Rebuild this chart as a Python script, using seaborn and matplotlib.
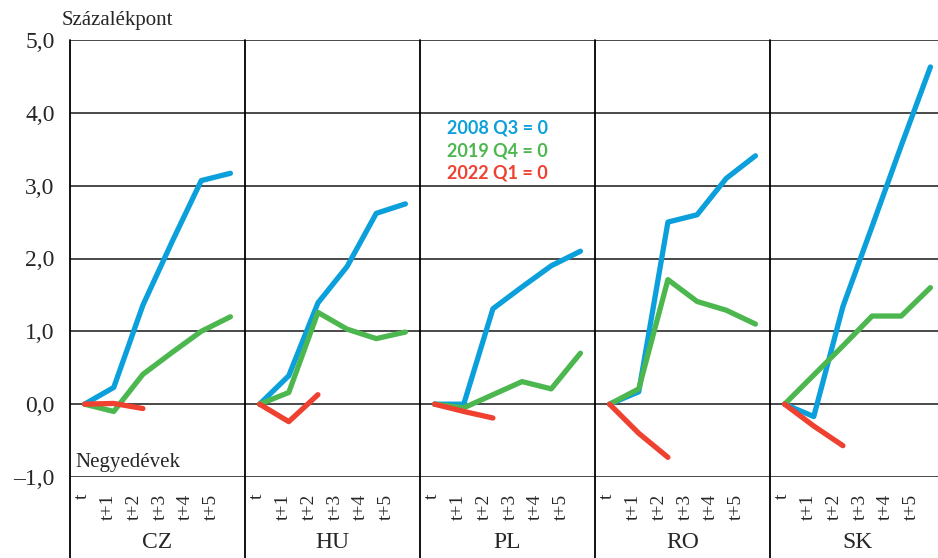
import matplotlib
matplotlib.use("Agg")
import matplotlib.pyplot as plt
import seaborn as sns
import pandas as pd
import numpy as np

# ---- data ----
countries = ["CZ", "HU", "PL", "RO", "SK"]
periods = ["t", "t+1", "t+2", "t+3", "t+4", "t+5"]
series_names = ["2008 Q3 = 0", "2019 Q4 = 0", "2022 Q1 = 0"]

s2008 = {
    "CZ": [0.0, 0.23, 1.36, 2.23, 3.07, 3.17],
    "HU": [0.0, 0.39, 1.39, 1.89, 2.62, 2.75],
    "PL": [0.0, 0.0, 1.31, 1.61, 1.90, 2.10],
    "RO": [0.0, 0.17, 2.50, 2.60, 3.10, 3.41],
    "SK": [0.0, -0.17, 1.34, 2.44, 3.55, 4.63],
}
s2019 = {
    "CZ": [0.0, -0.10, 0.41, 0.71, 1.00, 1.20],
    "HU": [0.0, 0.16, 1.26, 1.03, 0.90, 0.99],
    "PL": [0.0, -0.05, 0.13, 0.31, 0.21, 0.70],
    "RO": [0.0, 0.21, 1.71, 1.41, 1.29, 1.10],
    "SK": [0.0, 0.40, 0.80, 1.21, 1.21, 1.60],
}
s2022 = {
    "CZ": [0.0, 0.01, -0.06],
    "HU": [0.0, -0.24, 0.13],
    "PL": [0.0, -0.10, -0.19],
    "RO": [0.0, -0.40, -0.73],
    "SK": [0.0, -0.30, -0.57],
}
ytick_values = [-1, 0, 1, 2, 3, 4, 5]
ytick_labels = ["\u20131,0", "0,0", "1,0", "2,0", "3,0", "4,0", "5,0"]

colors = {"2008 Q3 = 0": "#0BA0DB", "2019 Q4 = 0": "#4DB74F", "2022 Q1 = 0": "#EE4130"}

# ---- long table ----
rows = []
for ci, c in enumerate(countries):
    for name, src in zip(series_names, [s2008, s2019, s2022]):
        for pi, v in enumerate(src[c]):
            rows.append({"country": c, "series": name, "period": periods[pi],
                         "pos": ci * len(periods) + pi, "value": v})
df = pd.DataFrame(rows)

sns.set_style("white")
plt.rcParams["font.family"] = ["Liberation Serif", "DejaVu Serif"]

fig = plt.figure(figsize=(9.38, 5.58), dpi=100)
ax = fig.add_axes([70 / 938, 1 - 477 / 558, 1 - 70 / 938, 437 / 558])

sns.lineplot(data=df, x="pos", y="value", hue="series", units="country",
             estimator=None, palette=colors, hue_order=series_names,
             linewidth=3.8, legend=False, ax=ax, solid_capstyle="round",
             zorder=3)

n = len(periods)
ax.set_xlim(-0.5, 29.26)
ax.set_ylim(-1, 5)

# horizontal gridlines
ax.set_yticks(ytick_values)
ax.set_yticklabels(ytick_labels, fontsize=17)
ax.yaxis.grid(True, color="#3a3a3a", linewidth=1.3)
ax.tick_params(axis="y", length=7, width=1.3, color="#3a3a3a", pad=4)

# x tick labels (category labels sit slightly tighter than the points, as in the source)
label_step = 0.89
tick_pos = [k * n - 0.09 + label_step * i for k in range(len(countries)) for i in range(n)]
ax.set_xticks(tick_pos)
ax.set_xticklabels(periods * len(countries), rotation=90, fontsize=14)
ax.tick_params(axis="x", length=0, pad=12)
ax.set_xlabel("")
ax.set_ylabel("")

for sp in ax.spines.values():
    sp.set_visible(False)

# panel separators (extend down to figure bottom)
trans = ax.get_xaxis_transform()
for k in range(len(countries)):
    xb = k * n - 0.5
    ax.plot([xb, xb], [-0.185, 1.0], transform=trans, color="black",
            linewidth=1.3, clip_on=False, zorder=2)
    ax.text(k * n + (n - 1) / 2, -0.15, countries[k], transform=trans,
            ha="center", va="center", fontsize=17)

# legend text inside PL panel
leg_fams = ["Lato", "DejaVu Sans"]
for i, name in enumerate(series_names):
    ax.text(12.43, 3.79 - 0.31 * i, name, color=colors[name],
            fontsize=13, fontweight="bold", family=leg_fams,
            ha="left", va="center")

fig.text(62 / 938, 1 - 20 / 558, "Százalékpont", fontsize=15, ha="left", va="center")
fig.text(75 / 938, 1 - 463 / 558, "Negyedévek", fontsize=15, ha="left", va="center")

fig.savefig("out.png", dpi=100, facecolor="white")
